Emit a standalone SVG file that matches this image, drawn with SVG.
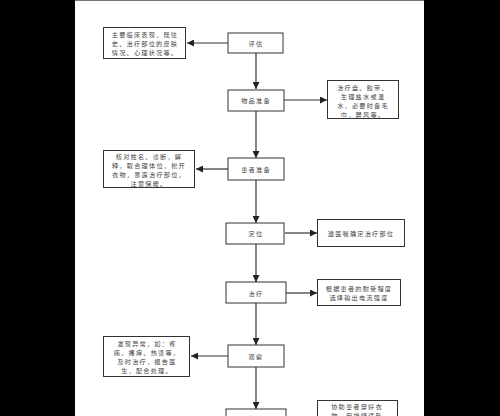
<svg xmlns="http://www.w3.org/2000/svg" width="500" height="416" viewBox="0 0 500 416">
<defs>
<style>
.box{fill:#fff;stroke:#333;stroke-width:1}
.t{font-family:"Noto Sans CJK SC","Liberation Sans",sans-serif;font-size:6.2px;letter-spacing:1.2px;fill:#444;text-anchor:middle}
.c{stroke:#333;stroke-width:1.2;fill:none;marker-end:url(#ah)}
</style>
<marker id="ah" viewBox="0 0 10 10" refX="10" refY="5" markerWidth="7" markerHeight="7" markerUnits="userSpaceOnUse" orient="auto"><path d="M0,0 L10,5 L0,10 z" fill="#222"/></marker>
</defs>
<rect x="0" y="0" width="500" height="416" fill="#000"/>
<rect x="75" y="0" width="349" height="416" fill="#fff"/>
<line x1="75" y1="0.5" x2="424" y2="0.5" stroke="#777" stroke-width="1"/>
<g id="connectors">
<path class="c" d="M228,43 H187"/>
<path class="c" d="M256,53 V89"/>
<path class="c" d="M284,100 H327"/>
<path class="c" d="M256,111 V158"/>
<path class="c" d="M228,169 H196"/>
<path class="c" d="M256,180 V223"/>
<path class="c" d="M285,233 H317"/>
<path class="c" d="M256,244 V282"/>
<path class="c" d="M286,293 H317"/>
<path class="c" d="M256,303 V345"/>
<path class="c" d="M228,356 H191"/>
<path class="c" d="M256,367 V409"/>
</g>
<g id="n1"><rect class="box" x="228" y="33" width="55" height="20"/><text class="t" x="256" y="45.5">评估</text></g>
<g id="n1a"><rect class="box" x="103.5" y="27.5" width="82" height="31"/><text class="t" x="145" y="37">主要临床表现，既往</text><text class="t" x="145" y="46">史、治疗部位的皮肤</text><text class="t" x="145" y="55">情况、心理状况等。</text></g>
<g id="n2"><rect class="box" x="228" y="90" width="56" height="21"/><text class="t" x="256" y="102.5">物品准备</text></g>
<g id="n2a"><rect class="box" x="327.5" y="80.5" width="71" height="38"/><text class="t" x="363" y="90">治疗盘、胶带、</text><text class="t" x="363" y="99">生理盐水或温</text><text class="t" x="363" y="108">水，必要时备毛</text><text class="t" x="363" y="117">巾，屏风等。</text></g>
<g id="n3"><rect class="box" x="228" y="158" width="56" height="22"/><text class="t" x="256" y="171.5">患者准备</text></g>
<g id="n3a"><rect class="box" x="103.5" y="150.5" width="91" height="37"/><text class="t" x="149" y="159">核对姓名、诊断，解</text><text class="t" x="149" y="168">释，取合理体位，松开</text><text class="t" x="149" y="177">衣物，暴露治疗部位，</text><text class="t" x="149" y="186">注意保暖。</text></g>
<g id="n4"><rect class="box" x="226" y="223" width="58" height="21"/><text class="t" x="256" y="235.5">定位</text></g>
<g id="n4a"><rect class="box" x="317.5" y="219.5" width="87" height="27"/><text class="t" x="361" y="235.5">遵医嘱确定治疗部位</text></g>
<g id="n5"><rect class="box" x="226" y="282" width="60" height="21"/><text class="t" x="256" y="295.5">治疗</text></g>
<g id="n5a"><rect class="box" x="317.5" y="279.5" width="83" height="26"/><text class="t" x="359" y="290.5">根据患者的耐受程度</text><text class="t" x="359" y="299.5">选择输出电流强度</text></g>
<g id="n6"><rect class="box" x="228" y="345" width="56" height="22"/><text class="t" x="256" y="358.5">观察</text></g>
<g id="n6a"><rect class="box" x="103.5" y="336.5" width="86" height="40"/><text class="t" x="147" y="346">发现异常，如：疼</text><text class="t" x="147" y="355">痛、瘙痒、热烫等，</text><text class="t" x="147" y="364">及时治疗，报告医</text><text class="t" x="147" y="373">生，配合处理。</text></g>
<g id="n7"><rect class="box" x="226" y="409" width="60" height="20"/><text class="t" x="256" y="421">整理</text></g>
<g id="n7a"><rect class="box" x="317.5" y="400.5" width="80" height="30"/><text class="t" x="357" y="409">协助患者穿好衣</text><text class="t" x="357" y="418">物，安排舒适卧</text></g>
</svg>
